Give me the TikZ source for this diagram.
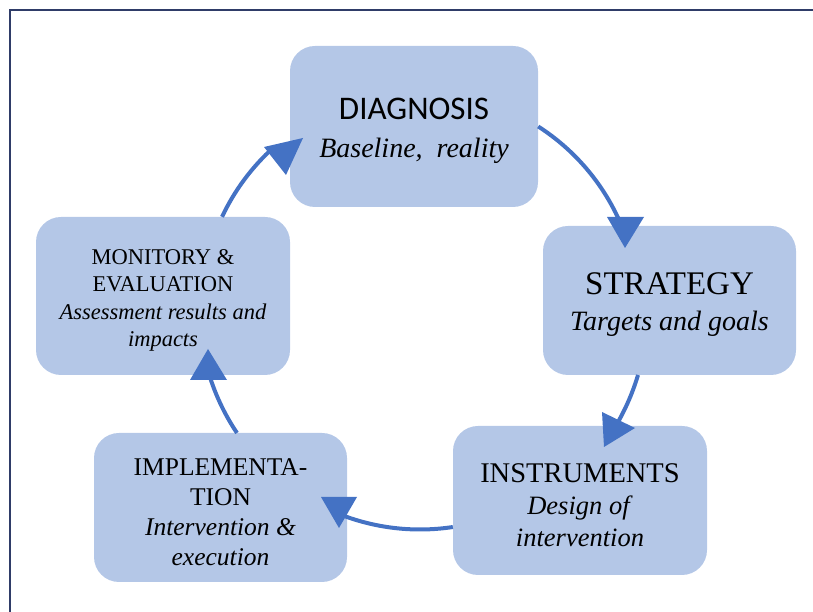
\documentclass[tikz,border=0pt]{standalone}
\usepackage{fontspec}
\setmainfont{Liberation Serif}
\newfontfamily\calibri{Carlito}
\definecolor{boxblue}{HTML}{B4C7E7}
\definecolor{arrowblue}{HTML}{4472C4}
\definecolor{framenavy}{HTML}{2F3C68}
\begin{document}
\begin{tikzpicture}[x=1pt, y=1pt,
  stage/.style={fill=boxblue, rounded corners=25pt, inner sep=0pt},
  stagetext/.style={align=center, inner sep=0pt, yshift=-4.5pt},
  flow/.style={draw=arrowblue, line width=4pt},
  head/.style={fill=arrowblue}]
  \useasboundingbox (0,0) rectangle (813,612);

  % frame along the top and left edge
  \draw[framenavy, line width=1.5pt] (10,0) -- (10,602) -- (813,602);

  % the five stages of the cycle
  \node[stage, minimum width=248pt, minimum height=161pt] (diag) at (414,485.5) {};
  \node[stage, minimum width=253pt, minimum height=149pt] (strat) at (669.5,311.5) {};
  \node[stage, minimum width=254pt, minimum height=149pt] (instr) at (580,111.5) {};
  \node[stage, minimum width=253pt, minimum height=149pt] (impl) at (220.5,104.5) {};
  \node[stage, minimum width=254pt, minimum height=158pt] (monit) at (163,316) {};

  % their texts
  \node[stagetext, font=\fontsize{28}{38}\selectfont] (diagtext) at (diag)
    {{\calibri\fontsize{33}{38}\selectfont DIAGNOSIS}\\\textit{Baseline,\ \ reality}};
  \node[stagetext, font=\fontsize{28}{36}\selectfont] (strattext) at (strat)
    {{\fontsize{33}{36}\selectfont STRATEGY}\\\textit{Targets and goals}};
  \node[stagetext, font=\fontsize{26.5}{32}\selectfont] (instrtext) at (instr)
    {{\fontsize{28.5}{32}\selectfont INSTRUMENTS}\\\textit{Design of}\\\textit{intervention}};
  \node[stagetext, font=\fontsize{25.5}{30}\selectfont] (impltext) at (impl)
    {IMPLEMENTA-\\TION\\\textit{Intervention \&}\\\textit{execution}};
  \node[stagetext, font=\fontsize{22.5}{27.5}\selectfont] (monittext) at (monit)
    {MONITORY \&\\EVALUATION\\\textit{Assessment results and}\\\textit{impacts}};

  % arcs round the hub
  \coordinate (hub) at (420,302);
  \draw[flow] (diag.east) arc[start angle=57.3, end angle=22, radius=218.2pt];
  \draw[flow] (hub) ++(-16.6:227.5) arc[start angle=-16.6, end angle=-30, radius=227.5pt];
  \draw[flow] (hub) ++(-81.4:219.5) arc[start angle=-81.4, end angle=-110, radius=219.5pt];
  \draw[flow] (hub) ++(-146.1:220.5) arc[start angle=-146.1, end angle=-163, radius=220.5pt];
  \draw[flow] (hub) ++(154.8:218.8) arc[start angle=154.8, end angle=132, radius=218.8pt];

  % arrow heads
  \fill[head] (607,395) -- (644,395) -- (625,364) -- cycle;
  \fill[head] (602,200) -- (635,184) -- (604,165) -- cycle;
  \fill[head] (321,115) -- (357,115) -- (339,84) -- cycle;
  \fill[head] (190,232) -- (227,232) -- (208,263) -- cycle;
  \fill[head] (264,465) -- (286,437) -- (303,474) -- cycle;
\end{tikzpicture}
\end{document}
